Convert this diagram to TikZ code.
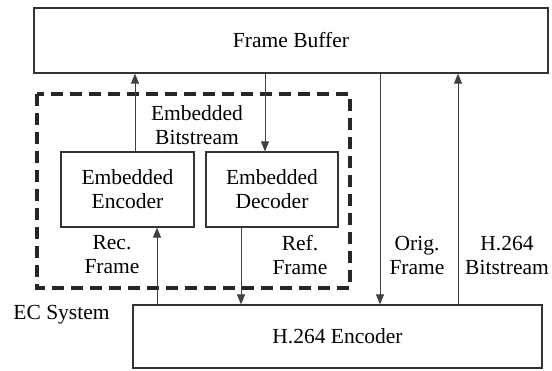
\documentclass[tikz,border=0pt]{standalone}
\usepackage{fontspec}
\setmainfont{Liberation Serif}
\usetikzlibrary{arrows.meta}
\begin{document}
\begin{tikzpicture}[x=1pt,y=-1pt,
  box/.style={draw=black!80, line width=1.3pt, rectangle, inner sep=0pt, align=center},
  lbl/.style={align=center, inner sep=0pt},
  arr/.style={draw=black!75, line width=0.9pt, -{Triangle[length=10pt,width=8pt]}},
  ecbox/.style={draw=black!85, line width=3.5pt, dash pattern=on 12pt off 7pt},
  every node/.style={font=\rmfamily\fontsize{21.5pt}{24pt}\selectfont}]
\useasboundingbox (0,0) rectangle (552,370);
\fill[white] (0,0) rectangle (552,370);
% boxes
\node[box, minimum width=514pt, minimum height=65pt] (fb) at (291,40.5) {Frame Buffer};
\node[box, minimum width=133pt, minimum height=75pt] (enc) at (127.5,189.5) {Embedded\\Encoder};
\node[box, minimum width=132pt, minimum height=75pt] (dec) at (272,189.5) {Embedded\\Decoder};
\node[box, minimum width=409pt, minimum height=63pt] (h264) at (337.5,336.5) {H.264 Encoder};
% EC system dashed box
\coordinate (ectl) at (37,94);
\coordinate (ecbr) at (350,288);
\draw[ecbox] (ectl) rectangle (ecbr);
% connector x positions
\coordinate (xa) at (135,0);
\coordinate (xb) at (265,0);
\coordinate (xc) at (157,0);
\coordinate (xd) at (241,0);
\coordinate (xe) at (380,0);
\coordinate (xf) at (458,0);
% connectors
\draw[arr] (xa |- enc.north) -- (xa |- fb.south);
\draw[arr] (xb |- fb.south) -- (xb |- dec.north);
\draw[arr] (xc |- h264.north) -- (xc |- enc.south);
\draw[arr] (xd |- dec.south) -- (xd |- h264.north);
\draw[arr] (xe |- fb.south) -- (xe |- h264.north);
\draw[arr] (xf |- h264.north) -- (xf |- fb.south);
% labels
\node[lbl] (lbs) at (197,125) {Embedded\\Bitstream};
\node[lbl] (lrec) at (112,255) {Rec.\\Frame};
\node[lbl] (lref) at (300,255) {Ref.\\Frame};
\node[lbl] (lorig) at (417,255) {Orig.\\Frame};
\node[lbl] (lh264) at (507,255) {H.264\\Bitstream};
\node[lbl] (lec) at (61.5,315) {EC System};
\end{tikzpicture}
\end{document}
